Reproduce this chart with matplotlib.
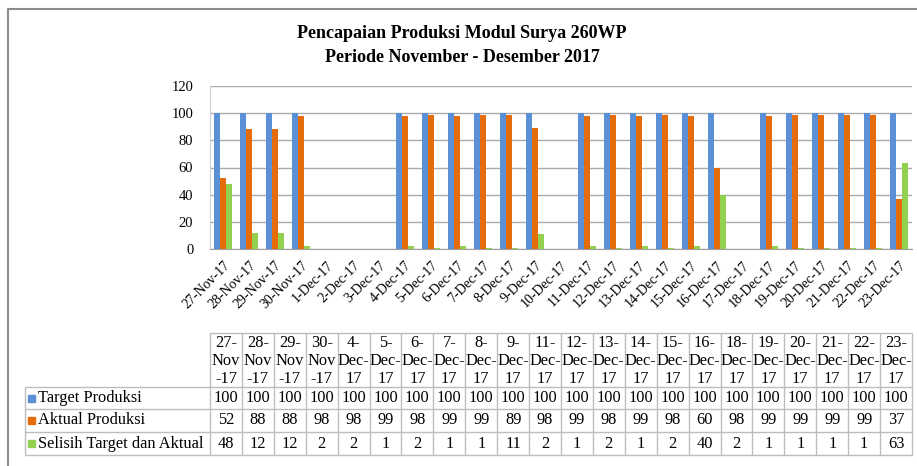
import matplotlib
matplotlib.use('Agg')
import matplotlib.pyplot as plt
import numpy as np

plt.rcParams['font.family'] = ['Liberation Serif', 'DejaVu Serif']

# axis categories (every day, incl. days without production)
dates = ["27-Nov-17", "28-Nov-17", "29-Nov-17", "30-Nov-17", "1-Dec-17", "2-Dec-17",
         "3-Dec-17", "4-Dec-17", "5-Dec-17", "6-Dec-17", "7-Dec-17", "8-Dec-17",
         "9-Dec-17", "10-Dec-17", "11-Dec-17", "12-Dec-17", "13-Dec-17", "14-Dec-17",
         "15-Dec-17", "16-Dec-17", "17-Dec-17", "18-Dec-17", "19-Dec-17", "20-Dec-17",
         "21-Dec-17", "22-Dec-17", "23-Dec-17"]
nan = np.nan
target = [100, 100, 100, 100, nan, nan, nan, 100, 100, 100, 100, 100, 100, nan,
          100, 100, 100, 100, 100, 100, nan, 100, 100, 100, 100, 100, 100]
aktual = [52, 88, 88, 98, nan, nan, nan, 98, 99, 98, 99, 99, 89, nan,
          98, 99, 98, 99, 98, 60, nan, 98, 99, 99, 99, 99, 37]
selisih = [48, 12, 12, 2, nan, nan, nan, 2, 1, 2, 1, 1, 11, nan,
           2, 1, 2, 1, 2, 40, nan, 2, 1, 1, 1, 1, 63]

series = ["Target Produksi", "Aktual Produksi", "Selisih Target dan Aktual"]
colors = ["#5B8FD6", "#E46C0A", "#92D050"]

W, H = 917, 466
fig = plt.figure(figsize=(W / 100, H / 100), dpi=100)

# chart
x0, x1, ytop, ybot = 210, 912, 86, 249
ax = fig.add_axes([x0 / W, 1 - ybot / H, (x1 - x0) / W, (ybot - ytop) / H])
x = np.arange(len(dates))
bw = 0.23
for i, (vals, c) in enumerate(zip([target, aktual, selisih], colors)):
    ax.bar(x + (i - 1) * bw, vals, bw, color=c, edgecolor='none', zorder=3)

ax.set_xlim(-0.5, len(dates) - 0.5)
ax.set_ylim(0, 120)
ax.set_yticks(range(0, 121, 20))
ax.grid(axis='y', color='#ABABAB', lw=1, zorder=0)
for s in ['top', 'right']:
    ax.spines[s].set_visible(False)
ax.spines['left'].set_color('#D0D0D0')
ax.spines['bottom'].set_color('#A0A0A0')
ax.tick_params(length=0)
ax.tick_params(axis='y', labelsize=10.5, pad=12)
ax.set_xticks(x)
ax.set_xticklabels(dates, rotation=45, ha='right', rotation_mode='anchor', fontsize=10)
ax.tick_params(axis='x', pad=7)

# title
fig.text(462 / W, 1 - 33 / H, "Pencapaian Produksi Modul Surya 260WP", ha='center', va='center',
         fontsize=13, fontweight='bold')
fig.text(462 / W, 1 - 57 / H, "Periode November - Desember 2017", ha='center', va='center',
         fontsize=13, fontweight='bold')

# data table (only days with data)
tb = fig.add_axes([0, 0, 1, 1], zorder=-1)
tb.set_xlim(0, W)
tb.set_ylim(H, 0)
tb.axis('off')

keep = [i for i, v in enumerate(target) if not np.isnan(v)]
n = len(keep)
cw = (x1 - x0) / n
lc = '#BDBDBD'
fs = 11.8
y_head, y_rows = 333, [387, 409, 432, 455]
tb.hlines(y_head, x0, x1, color=lc, lw=1)
tb.hlines(y_rows, 25, x1, color=lc, lw=1)
tb.vlines(25, y_rows[0], y_rows[-1], color=lc, lw=1)
for k in range(n + 1):
    tb.vlines(x0 + k * cw, y_head, y_rows[-1], color=lc, lw=1)

for k, i in enumerate(keep):
    d, m, yy = dates[i].split('-')
    if m == 'Nov':
        lines = [d + '-', m, '-' + yy]
    else:
        lines = [d + '-', m + '-', yy]
    cx = x0 + (k + 0.5) * cw
    for j, t in enumerate(lines):
        tb.text(cx, 343 + j * 18, t, ha='center', va='center', fontsize=fs)
    for r, vals in enumerate([target, aktual, selisih]):
        tb.text(cx, (y_rows[r] + y_rows[r + 1]) / 2, f"{vals[i]:.0f}",
                ha='center', va='center', fontsize=fs)

for r, (name, c) in enumerate(zip(series, colors)):
    cy = (y_rows[r] + y_rows[r + 1]) / 2
    tb.add_patch(plt.Rectangle((28, cy - 3.5), 7, 7, color=c))
    tb.text(38, cy, name, ha='left', va='center', fontsize=fs)

# outer chart frame
tb.plot([8, 8, W], [H, 9, 9], color='#8C8C8C', lw=1.5)

fig.savefig('out.png', dpi=100)
